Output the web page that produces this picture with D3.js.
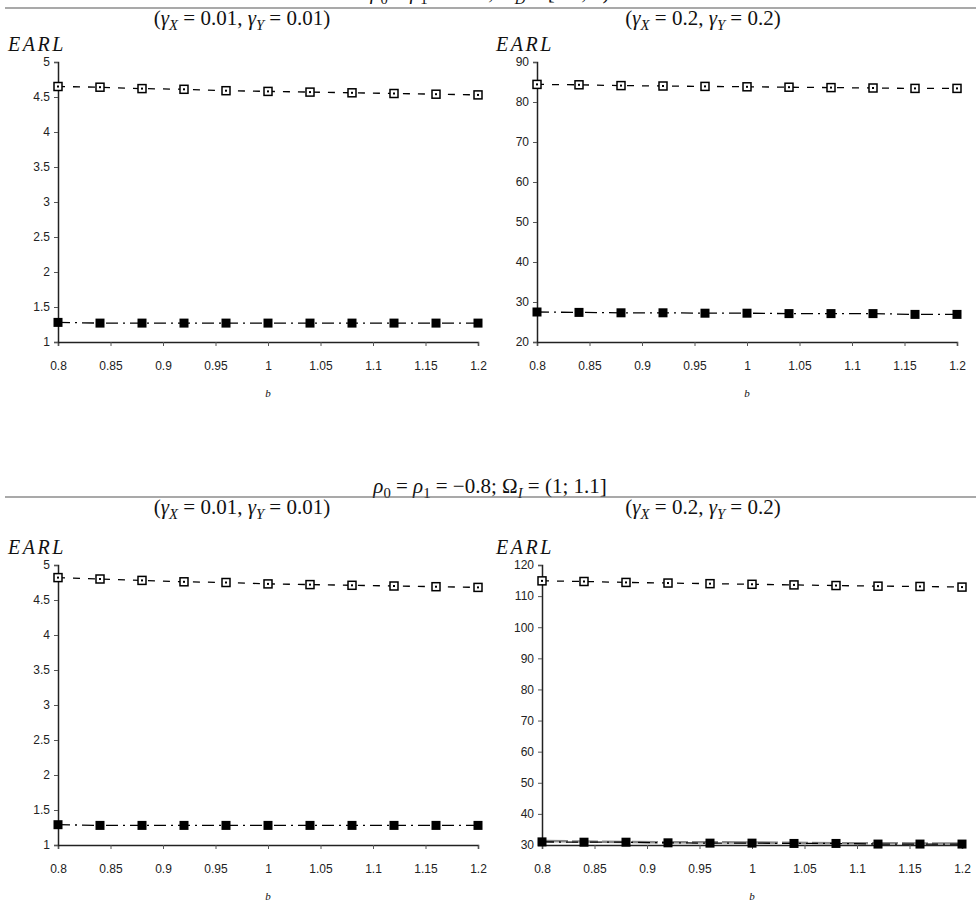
<!DOCTYPE html>
<html>
<head>
<meta charset="utf-8">
<script src="https://cdn.jsdelivr.net/npm/d3@7"></script>
<style>
  body { margin: 0; background: #fff; }
  .tick text { font-family: "Liberation Sans", Arial, sans-serif; font-size: 12px; fill: #222; }
  .math { font-family: "Liberation Serif", "DejaVu Serif", serif; fill: #111; }
</style>
</head>
<body>
<svg id="chart" width="976" height="908"></svg>
<script>
// x values (b) and tick labels
const bValues = [0.8, 0.84, 0.88, 0.92, 0.96, 1, 1.04, 1.08, 1.12, 1.16, 1.2]
const xTicks = [0.8, 0.85, 0.9, 0.95, 1, 1.05, 1.1, 1.15, 1.2]

// y ticks
const yTicksSmall = [1, 1.5, 2, 2.5, 3, 3.5, 4, 4.5, 5]
const yTicksTopRight = [20, 30, 40, 50, 60, 70, 80, 90]
const yTicksBottomRight = [30, 40, 50, 60, 70, 80, 90, 100, 110, 120]

// EARL values, top section
const openTopLeft = [4.65, 4.64, 4.62, 4.61, 4.59, 4.58, 4.57, 4.56, 4.55, 4.54, 4.53]
const filledTopLeft = [1.28, 1.27, 1.27, 1.27, 1.27, 1.27, 1.27, 1.27, 1.27, 1.27, 1.27]
const openTopRight = [84.4, 84.3, 84.1, 84.0, 83.9, 83.8, 83.7, 83.6, 83.5, 83.4, 83.4]
const filledTopRight = [27.5, 27.4, 27.3, 27.3, 27.2, 27.2, 27.1, 27.1, 27.1, 26.9, 26.9]

// EARL values, bottom section
const openBottomLeft = [4.82, 4.80, 4.78, 4.76, 4.75, 4.73, 4.72, 4.71, 4.70, 4.69, 4.68]
const filledBottomLeft = [1.29, 1.28, 1.28, 1.28, 1.28, 1.28, 1.28, 1.28, 1.28, 1.28, 1.28]
const openBottomRight = [114.9, 114.7, 114.4, 114.2, 114.0, 113.8, 113.6, 113.4, 113.2, 113.1, 112.9]
const filledBottomRight = [31.0, 30.9, 30.9, 30.7, 30.6, 30.6, 30.5, 30.5, 30.3, 30.3, 30.3]
const greyBottomRight = [31.3, 31.1, 31.0, 30.9, 30.9, 30.8, 30.7, 30.6, 30.6, 30.5, 30.5]

const svg = d3.select('#chart')
const SP = '\u2005' // math space around relations

// write a math-like label from [text, style] parts
// style: r = roman, i = italic, s = subscript, si = italic subscript
function mathText (g, x, y, parts, size, anchor) {
  let text = g.append('text')
    .attr('class', 'math')
    .attr('x', x)
    .attr('y', y)
    .attr('font-size', size)
    .attr('text-anchor', anchor || 'middle')
    .style('white-space', 'pre')
  let shifted = false
  parts.forEach(([t, st]) => {
    let sub = st === 's' || st === 'si'
    let span = text.append('tspan').text(t)
    if (sub && !shifted) span.attr('dy', size * 0.22)
    if (!sub && shifted) span.attr('dy', -size * 0.22)
    shifted = sub
    if (sub) span.attr('font-size', size * 0.7)
    if (st === 'i' || st === 'si') span.attr('font-style', 'italic')
  })
  return text
}

function subtitle (g, cx, y, v) {
  mathText(g, cx, y, [
    ['(', 'r'], ['γ', 'i'], ['X', 'si'], [SP + '=' + SP + v + ', ', 'r'],
    ['γ', 'i'], ['Y', 'si'], [SP + '=' + SP + v + ')', 'r']
  ], 21)
}

function panel (cfg) {
  let g = svg.append('g')
  let x = d3.scaleLinear().domain([0.8, 1.2]).range([cfg.left, cfg.right])
  let y = d3.scaleLinear().domain(d3.extent(cfg.yTicks)).range([cfg.bottom, cfg.top])

  g.append('g')
    .attr('transform', `translate(0,${cfg.bottom})`)
    .call(d3.axisBottom(x).tickValues(xTicks).tickSize(4).tickPadding(15).tickFormat(d3.format('')))
    .call(a => a.select('.domain').attr('stroke', '#222').attr('stroke-width', 1.5))
    .call(a => a.selectAll('.tick line').attr('stroke', '#555'))

  g.append('g')
    .attr('transform', `translate(${cfg.left},0)`)
    .call(d3.axisLeft(y).tickValues(cfg.yTicks).tickSize(4).tickPadding(4).tickFormat(d3.format('')))
    .call(a => a.select('.domain').attr('stroke', '#222').attr('stroke-width', 1.5))
    .call(a => a.selectAll('.tick line').attr('stroke', '#555'))

  let line = d3.line().x((d, i) => x(bValues[i])).y(d => y(d))

  if (cfg.grey) {
    g.append('path')
      .datum(cfg.grey)
      .attr('d', line)
      .attr('fill', 'none')
      .attr('stroke', '#888')
      .attr('stroke-width', 2.5)
      .attr('stroke-dasharray', '26,4')
  }

  // filled squares, dash-dot line
  g.append('path')
    .datum(cfg.filled)
    .attr('d', line)
    .attr('fill', 'none')
    .attr('stroke', '#000')
    .attr('stroke-width', 1.3)
    .attr('stroke-dasharray', '12,5,2,5')
  g.selectAll('.filled')
    .data(cfg.filled)
    .join('rect')
    .attr('x', (d, i) => x(bValues[i]) - 4.5)
    .attr('y', d => y(d) - 4.5)
    .attr('width', 9)
    .attr('height', 9)
    .attr('fill', '#000')

  // open squares, dashed line
  g.append('path')
    .datum(cfg.open)
    .attr('d', line)
    .attr('fill', 'none')
    .attr('stroke', '#000')
    .attr('stroke-width', 1.3)
    .attr('stroke-dasharray', '7,8')
  g.selectAll('.open')
    .data(cfg.open)
    .join('rect')
    .attr('x', (d, i) => x(bValues[i]) - 4)
    .attr('y', d => y(d) - 4)
    .attr('width', 8)
    .attr('height', 8)
    .attr('fill', '#fff')
    .attr('stroke', '#000')
    .attr('stroke-width', 1.5)
  g.selectAll('.dot')
    .data(cfg.open)
    .join('rect')
    .attr('x', (d, i) => x(bValues[i]) - 1)
    .attr('y', d => y(d) - 1)
    .attr('width', 2)
    .attr('height', 2)
    .attr('fill', '#000')

  // axis labels
  mathText(g, cfg.labelX, cfg.top - 11, [['EARL', 'i']], 20, 'start')
    .attr('letter-spacing', 2.5)
  mathText(g, (cfg.left + cfg.right) / 2, cfg.bottom + 55, [['b', 'i']], 11)
}

function section (top, titleY, title) {
  let g = svg.append('g')
  mathText(g, 490, titleY, title, 21)
  g.append('line')
    .attr('x1', 5).attr('x2', 976)
    .attr('y1', top).attr('y2', top)
    .attr('stroke', '#555')
    .attr('stroke-width', 1.2)
  subtitle(g, 242, top + 17, '0.01')
  subtitle(g, 703, top + 17, '0.2')
}

// top section, its title runs off the top edge as in the source figure
section(8, -1, [
  ['ρ', 'i'], ['0', 's'], [SP + '=' + SP, 'r'], ['ρ', 'i'], ['1', 's'],
  [SP + '=' + SP + '−0.8; Ω', 'r'], ['D', 'si'], [SP + '=' + SP + '[0.9; 1)', 'r']
])
section(497, 493, [
  ['ρ', 'i'], ['0', 's'], [SP + '=' + SP, 'r'], ['ρ', 'i'], ['1', 's'],
  [SP + '=' + SP + '−0.8; Ω', 'r'], ['I', 'si'], [SP + '=' + SP + '(1; 1.1]', 'r']
])

panel({ left: 58, right: 478, top: 62, bottom: 342, labelX: 8, yTicks: yTicksSmall, open: openTopLeft, filled: filledTopLeft })
panel({ left: 537, right: 957, top: 62, bottom: 342, labelX: 496, yTicks: yTicksTopRight, open: openTopRight, filled: filledTopRight })
panel({ left: 58, right: 478, top: 565, bottom: 845, labelX: 8, yTicks: yTicksSmall, open: openBottomLeft, filled: filledBottomLeft })
panel({ left: 542, right: 962, top: 565, bottom: 845, labelX: 496, yTicks: yTicksBottomRight, open: openBottomRight, filled: filledBottomRight, grey: greyBottomRight })
</script>
</body>
</html>
